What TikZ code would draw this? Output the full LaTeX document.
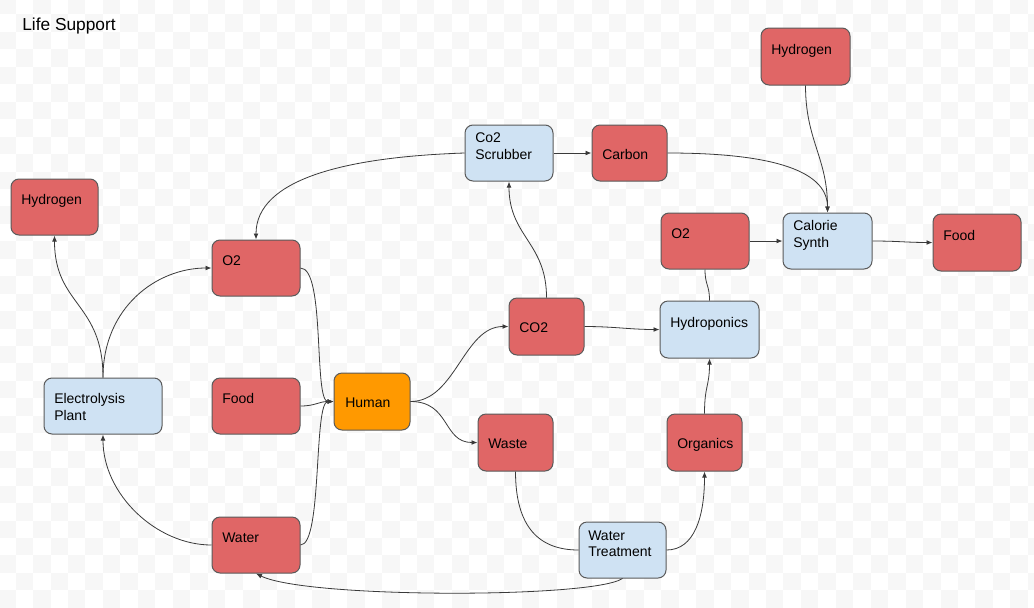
\documentclass[tikz,border=0pt]{standalone}
\usepackage{fontspec}
\setmainfont{Liberation Sans}
\usetikzlibrary{fit,arrows.meta}
\definecolor{redf}{HTML}{E06666}
\definecolor{bluef}{HTML}{CFE2F3}
\definecolor{orangef}{HTML}{FF9900}
\definecolor{edgec}{HTML}{5A5A5A}
\definecolor{linec}{HTML}{3A3A3A}
\definecolor{bgsq}{HTML}{F7F7F7}
\tikzset{
  boxbase/.style={draw=edgec, line width=0.75pt, rounded corners=6pt, inner sep=0pt},
  redbox/.style={boxbase, fill=redf},
  bluebox/.style={boxbase, fill=bluef},
  orangebox/.style={boxbase, fill=orangef},
  lbl/.style={anchor=base west, inner sep=0pt, font=\fontsize{10.5}{12.75}\selectfont, text=black},
  conn/.style={draw=linec, line width=0.6pt},
  arr/.style={conn, -{Latex[length=4.5pt,width=3.6pt]}}
}
\begin{document}
\begin{tikzpicture}[x=0.75pt,y=-0.75pt]
\useasboundingbox (0,0) rectangle (1034,607);
\fill[white] (0,0) rectangle (1034,607);
\begin{scope}
\clip (0,0) rectangle (1034,607);
\foreach \i in {0,...,59}{
  \foreach \j in {0,...,35}{
    \pgfmathtruncatemacro\cpar{mod(\i+\j,2)}
    \ifnum\cpar=0
      \fill[bgsq] ({-1.8+\i*17.45},{-3+\j*17.45}) rectangle +(17.45,17.45);
    \fi
  }
}
\end{scope}

% title
\node[anchor=base west, inner sep=0pt, font=\fontsize{13}{15}\selectfont] (title) at (22,30) {Life Support};

% boxes
\node[redbox, fit={(11,179) (98,235)}] (hl) {};
\node[redbox, fit={(212,240) (300,296)}] (o2l) {};
\node[redbox, fit={(212,378) (300,434)}] (fl) {};
\node[orangebox, fit={(334,373) (410,430)}] (hu) {};
\node[redbox, fit={(212,517) (300,573)}] (wa) {};
\node[bluebox, fit={(44,378) (162,434)}] (el) {};
\node[bluebox, fit={(465,125) (553,181)}] (sc) {};
\node[redbox, fit={(592,125) (667,181)}] (ca) {};
\node[redbox, fit={(509,298) (584,355)}] (co) {};
\node[redbox, fit={(478,414) (553,471)}] (ws) {};
\node[bluebox, fit={(579,522) (666,578)}] (wt) {};
\node[redbox, fit={(667,414) (742,471)}] (og) {};
\node[bluebox, fit={(660,301) (759,358)}] (hy) {};
\node[redbox, fit={(661,213) (749,269)}] (o2r) {};
\node[bluebox, fit={(783,213) (872,269)}] (cs) {};
\node[redbox, fit={(761,28) (850,85)}] (ht) {};
\node[redbox, fit={(933,214) (1021,271)}] (fr) {};

% labels
\node[lbl] (hl-t) at (21,204) {Hydrogen};
\node[lbl] (o2l-t) at (222,265) {O2};
\node[lbl] (fl-t) at (222,403) {Food};
\node[lbl] (hu-t) at (345,407) {Human};
\node[lbl] (wa-t) at (222,542) {Water};
\node[lbl] (el-t1) at (54,403) {Electrolysis};
\node[lbl] (el-t2) at (54,420) {Plant};
\node[lbl] (sc-t1) at (475,142) {Co2};
\node[lbl] (sc-t2) at (475,159) {Scrubber};
\node[lbl] (ca-t) at (602,159) {Carbon};
\node[lbl] (co-t) at (519,332) {CO2};
\node[lbl] (ws-t) at (488,448) {Waste};
\node[lbl] (wt-t1) at (588,540) {Water};
\node[lbl] (wt-t2) at (588,556) {Treatment};
\node[lbl] (og-t) at (677,448) {Organics};
\node[lbl] (hy-t) at (670,327) {Hydroponics};
\node[lbl] (o2r-t) at (671,238) {O2};
\node[lbl] (cs-t1) at (793,230) {Calorie};
\node[lbl] (cs-t2) at (793,247) {Synth};
\node[lbl] (ht-t) at (771,54) {Hydrogen};
\node[lbl] (fr-t) at (943,240) {Food};

% connectors
\draw[arr] (el.north) .. controls +(0,-75) and +(0,70) .. (hl.south);
\draw[arr] (el.north) .. controls +(0,-70) and +(-55,0) .. (o2l.west);
\draw[arr] (wa.west) .. controls +(-55,0) and +(0,60) .. (el.south);
\draw[arr] (o2l.east) .. controls +(25,0) and +(-20,0) .. (hu.west);
\draw[arr] (fl.east) .. controls +(15,0) and +(-15,0) .. (hu.west);
\draw[arr] (wa.east) .. controls +(22,0) and +(-20,0) .. (hu.west);
\draw[arr] (hu.east) .. controls +(45,0) and +(-45,0) .. (co.west);
\draw[arr] (hu.east) .. controls +(40,0) and +(-35,0) .. (ws.west);
\draw[arr] (co.north) .. controls +(0,-55) and +(0,55) .. (sc.south);
\draw[arr] (sc.west) .. controls +(-120,4) and +(0,-60) .. (o2l.north);
\draw[arr] (sc.east) -- (ca.west);
\draw[arr] (ca.east) .. controls +(95,0) and +(0,-45) .. (cs.north);
\draw[arr] (ht.south) .. controls +(0,55) and +(0,-55) .. (cs.north);
\draw[arr] (o2r.east) -- (cs.west);
\draw[arr] (cs.east) .. controls +(25,0) and +(-25,0) .. (fr.west);
\draw[arr] (co.east) .. controls +(30,0) and +(-30,0) .. (hy.west);
\draw[conn] (hy.north) .. controls +(0,-16) and +(0,16) .. (o2r.south);
\draw[arr] (og.north) .. controls +(0,-28) and +(0,28) .. (hy.south);
\draw[conn] (ws.south) .. controls +(0,55) and +(-40,0) .. (wt.west);
\draw[arr] (wt.east) .. controls +(28,0) and +(0,45) .. (og.south);
\draw[arr] (wt.south) .. controls +(-30,20) and +(50,25) .. (wa.south);
\end{tikzpicture}
\end{document}
